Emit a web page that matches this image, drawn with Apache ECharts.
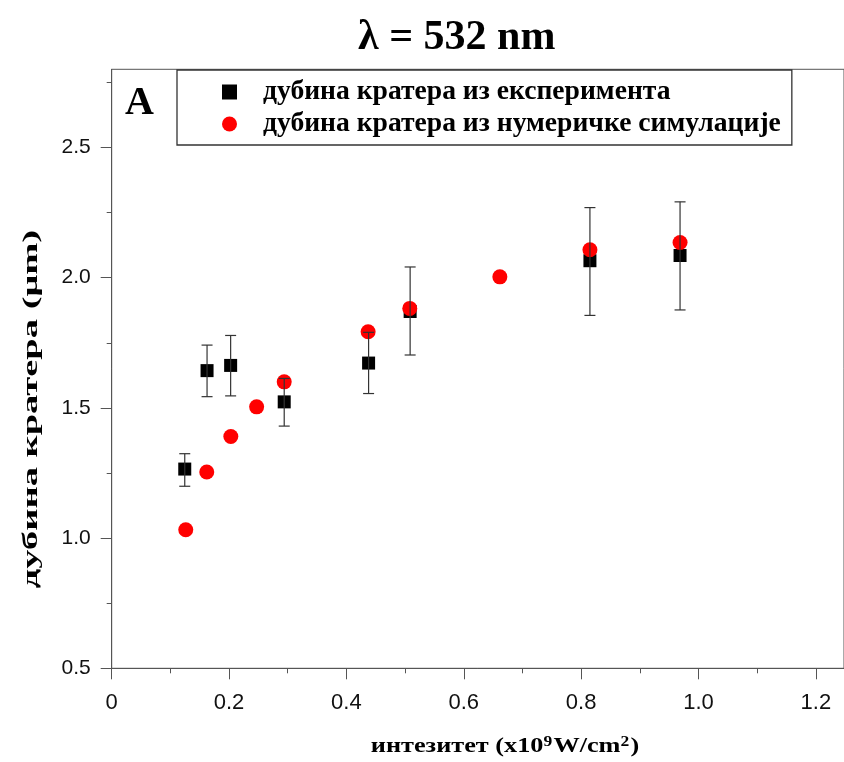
<!DOCTYPE html>
<html>
<head>
<meta charset="utf-8">
<script src="https://cdn.jsdelivr.net/npm/echarts@6/dist/echarts.min.js"></script>
<style>
  html, body { margin: 0; padding: 0; background: #fff; }
  #main { width: 844px; height: 762px; }
</style>
</head>
<body>
<div id="main"></div>
<script>
// експеримент: интензитет, дубина, доња и горња граница грешке
const expX = [0.1245, 0.1625, 0.2027, 0.294, 0.4378, 0.5086, 0.815, 0.9686]
const expY = [1.265, 1.643, 1.663, 1.523, 1.672, 1.870, 2.065, 2.085]
const expLow = [1.199, 1.543, 1.546, 1.430, 1.555, 1.703, 1.855, 1.876]
const expHigh = [1.324, 1.741, 1.778, 1.613, 1.790, 2.041, 2.269, 2.291]

// нумеричка симулација
const simX = [0.1262, 0.162, 0.203, 0.247, 0.294, 0.437, 0.508, 0.6615, 0.815, 0.9686]
const simY = [1.032, 1.254, 1.390, 1.504, 1.600, 1.792, 1.882, 2.003, 2.107, 2.135]

// подеоци на y оси
const yMajor = [0.5, 1.0, 1.5, 2.0, 2.5]
const yMinor = [0.75, 1.25, 1.75, 2.25, 2.75]

const expName = 'дубина кратера из експеримента'
const simName = 'дубина кратера из нумеричке симулације'

const serif = '"Liberation Serif", "Times New Roman", serif'
const sans = '"Liberation Sans", Arial, sans-serif'

const chart = echarts.init(document.getElementById('main'))

const option = {
  animation: false,
  backgroundColor: '#fff',
  title: {
    text: 'λ = 532 nm',
    left: 353,
    top: 12,
    textStyle: { fontFamily: serif, fontSize: 42, fontWeight: 'bold', color: '#000' }
  },
  grid: {
    left: 111.7,
    top: 69.3,
    right: -2,
    bottom: 93.7,
    show: true,
    borderColor: '#555',
    borderWidth: 1
  },
  legend: {
    orient: 'vertical',
    left: 177,
    top: 70,
    padding: [8, 11, 7, 45],
    itemGap: 4,
    itemWidth: 15,
    itemHeight: 15,
    backgroundColor: '#fff',
    borderColor: '#333',
    borderWidth: 1.3,
    borderRadius: 0,
    data: [expName, simName],
    textStyle: {
      fontFamily: serif, fontSize: 27.6, fontWeight: 'bold', color: '#000',
      padding: [0, 0, 0, 21]
    }
  },
  xAxis: {
    type: 'value',
    min: 0,
    max: 1.248,
    interval: 0.2,
    splitLine: { show: false },
    axisLine: { lineStyle: { color: '#555', width: 1 } },
    axisTick: { inside: false, length: 11, lineStyle: { color: '#555' } },
    minorTick: { show: true, splitNumber: 2, length: 5, lineStyle: { color: '#555' } },
    axisLabel: {
      showMaxLabel: false,
      margin: 24,
      fontFamily: sans, fontSize: 22, color: '#111',
      formatter: v => (v === 0 ? '0' : v.toFixed(1))
    }
  },
  yAxis: [
    {
      type: 'value',
      position: 'left',
      min: 0.5,
      max: 2.8,
      interval: 0.5,
      splitLine: { show: false },
      axisLine: { show: true, lineStyle: { color: '#555', width: 1 } },
      axisTick: { show: true, inside: false, length: 11, customValues: yMajor, lineStyle: { color: '#555' } },
      axisLabel: {
        customValues: yMajor,
        margin: 21,
        fontFamily: sans, fontSize: 21, color: '#111',
        formatter: v => v.toFixed(1)
      }
    },
    {
      type: 'value',
      position: 'left',
      min: 0.5,
      max: 2.8,
      splitLine: { show: false },
      axisLine: { show: false },
      axisTick: { show: true, inside: false, length: 5, customValues: yMinor, lineStyle: { color: '#555' } },
      axisLabel: { show: false }
    }
  ],
  graphic: [
    {
      type: 'text',
      left: 125,
      top: 84,
      style: { text: 'A', font: 'bold 40px ' + serif, fill: '#000' }
    },
    {
      type: 'text',
      x: 31,
      y: 409,
      rotation: Math.PI / 2,
      scaleX: 1.75,
      style: {
        text: 'дубина кратера (μm)',
        font: 'bold 22px ' + serif,
        fill: '#000',
        align: 'center',
        verticalAlign: 'middle'
      }
    },
    {
      type: 'text',
      x: 505,
      y: 747,
      scaleX: 1.25,
      style: {
        text: 'интезитет (x10{sup|9}W/cm{sup|2})',
        font: 'bold 21px ' + serif,
        fill: '#000',
        align: 'center',
        verticalAlign: 'middle',
        rich: {
          sup: { font: 'bold 14px ' + serif, fill: '#000', verticalAlign: 'top', padding: [0, 1, 9, 0] }
        }
      }
    }
  ],
  series: [
    {
      name: expName,
      type: 'scatter',
      symbol: 'rect',
      symbolSize: 13,
      itemStyle: { color: '#000', opacity: 1 },
      z: 2,
      data: expX.map((x, i) => [x, expY[i]])
    },
    {
      name: simName,
      type: 'scatter',
      symbol: 'circle',
      symbolSize: 15,
      itemStyle: { color: '#ff0000', opacity: 1 },
      z: 3,
      data: simX.map((x, i) => [x, simY[i]])
    },
    {
      name: 'грешка',
      type: 'custom',
      z: 4,
      silent: true,
      data: expX.map((x, i) => [x, expLow[i], expHigh[i]]),
      renderItem: (params, api) => {
        const lo = api.coord([api.value(0), api.value(1)])
        const hi = api.coord([api.value(0), api.value(2)])
        const w = 5.5
        const st = { stroke: '#333', lineWidth: 1.2 }
        return {
          type: 'group',
          children: [
            { type: 'line', shape: { x1: hi[0], y1: hi[1], x2: lo[0], y2: lo[1] }, style: st },
            { type: 'line', shape: { x1: hi[0] - w, y1: hi[1], x2: hi[0] + w, y2: hi[1] }, style: st },
            { type: 'line', shape: { x1: lo[0] - w, y1: lo[1], x2: lo[0] + w, y2: lo[1] }, style: st }
          ]
        }
      }
    }
  ]
}

option && chart.setOption(option)
</script>
</body>
</html>
